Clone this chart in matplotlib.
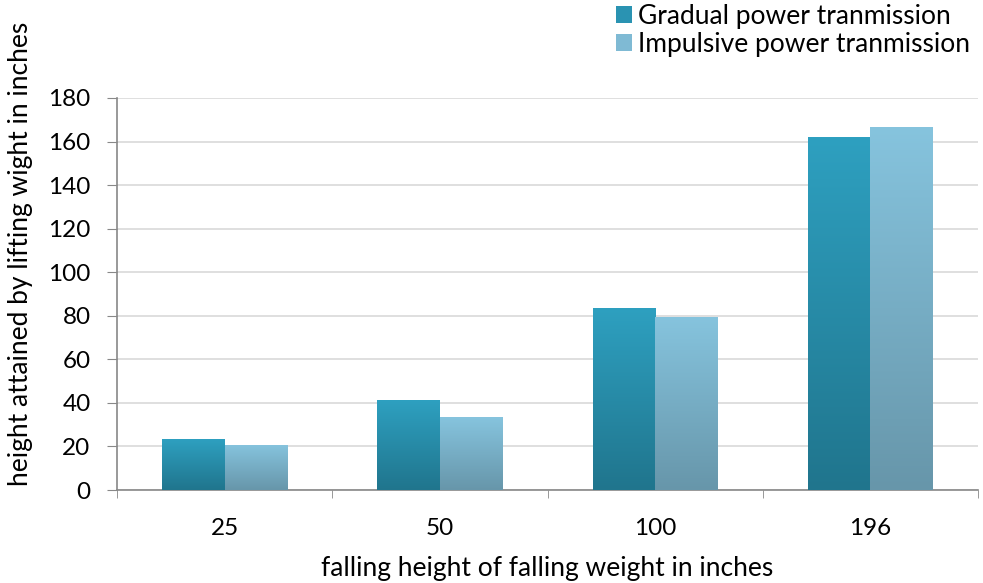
import numpy as np
import matplotlib
matplotlib.use("Agg")
import matplotlib.pyplot as plt
from matplotlib.colors import LinearSegmentedColormap
from matplotlib.patches import Patch

plt.rcParams["font.family"] = ["Lato", "DejaVu Sans"]

# data
categories = ["25", "50", "100", "196"]
gradual = [23.4, 41.3, 83.4, 161.9]
impulsive = [20.7, 33.5, 79.6, 166.8]
series_names = ["Gradual power tranmission", "Impulsive power tranmission"]

fig = plt.figure(figsize=(9.83, 5.83), dpi=100)
ax = fig.add_axes([0.119, 0.1595, 0.876, 0.6725])

x = np.arange(len(categories))
w = 0.29
bars1 = ax.bar(x - w / 2, gradual, w, color="#2a93b2", zorder=2)
bars2 = ax.bar(x + w / 2, impulsive, w, color="#7fbad4", zorder=2)

cmap1 = LinearSegmentedColormap.from_list("g", ["#20758d", "#2ea0c0"])
cmap2 = LinearSegmentedColormap.from_list("i", ["#6796aa", "#86c4de"])
grad = np.linspace(0, 1, 256).reshape(-1, 1)


def paint(bars, cmap):
    for b in bars:
        x0, y0 = b.get_x(), b.get_y()
        x1, y1 = x0 + b.get_width(), y0 + b.get_height()
        im = ax.imshow(grad, cmap=cmap, aspect="auto", origin="lower",
                       extent=[x0, x1, y0, y1], zorder=3)
        im.set_clip_path(b)


paint(bars1, cmap1)
paint(bars2, cmap2)

ax.set_xlim(-0.5, len(categories) - 0.5)
ax.set_ylim(0, 180)
ax.set_yticks(range(0, 181, 20))
ax.set_xticks(x)
ax.set_xticklabels(categories)
ax.set_xticks(np.arange(-0.5, len(categories)), minor=True)
ax.tick_params(axis="x", which="major", length=0, pad=20, labelsize=17.5)
ax.tick_params(axis="x", which="minor", length=6, color="#888888", direction="out")
ax.tick_params(axis="y", length=7, color="#888888", labelsize=17.5, pad=12)

ax.grid(axis="y", color="#d9d9d9", linewidth=1.2, zorder=0)
for s in ["top", "right"]:
    ax.spines[s].set_visible(False)
for s in ["left", "bottom"]:
    ax.spines[s].set_color("#888888")
    ax.spines[s].set_linewidth(1.2)

ax.set_xlabel("falling height of falling weight in inches", fontsize=19)
ax.set_ylabel("height attained by lifting wight in inches", fontsize=19)
ax.xaxis.set_label_coords(0.5, -0.168)
ax.yaxis.set_label_coords(-0.097, 0.603)

handles = [Patch(facecolor="#2a93b2"), Patch(facecolor="#7fbad4")]
fig.legend(handles, series_names, loc="upper right", bbox_to_anchor=(1.003, 1.02),
           frameon=False, fontsize=19, handlelength=0.6, handleheight=0.6,
           handletextpad=0.25, labelspacing=0.1, borderaxespad=0.2)

fig.savefig("out.png", dpi=100)
